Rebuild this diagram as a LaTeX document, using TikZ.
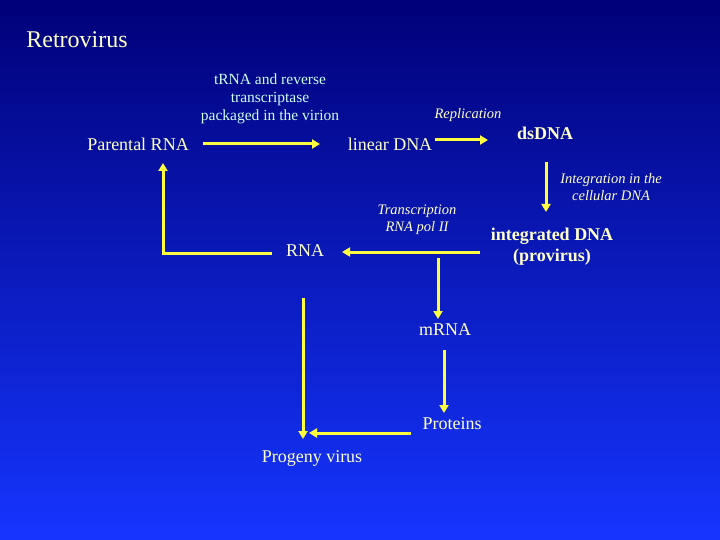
\documentclass[tikz,border=0pt]{standalone}
\usepackage{fontspec}
\setmainfont{Liberation Serif}
\usetikzlibrary{arrows.meta}
\definecolor{txt}{HTML}{FFFFCC}
\definecolor{mint}{HTML}{CCFFEE}
\definecolor{arr}{HTML}{FFFF40}
\definecolor{bgtop}{HTML}{000078}
\definecolor{bgbot}{HTML}{1535FF}
\begin{document}
\begin{tikzpicture}[x=1pt,y=-1pt,
  lab/.style={text=txt,font=\fontsize{18}{20}\selectfont,inner sep=1pt},
  small/.style={text=txt,font=\fontsize{14.5}{17}\selectfont\itshape,align=center,inner sep=0pt},
  conn/.style={draw=arr,line width=3pt,-{Triangle[length=8pt,width=9pt]}},
  plain/.style={draw=arr,line width=3pt}]
\shade[top color=bgtop,bottom color=bgbot] (0,0) rectangle (720,540);
\useasboundingbox (0,0) rectangle (720,540);
\node[text=txt,font=\fontsize{24}{26}\selectfont] (title) at (77,40) {Retrovirus};
\node[lab] (prna) at (138,144) {Parental RNA};
\node[lab] (ldna) at (390,144) {linear DNA};
\node[lab,font=\fontsize{18}{20}\selectfont\bfseries] (ds) at (545,133) {dsDNA};
\node[lab,font=\fontsize{18}{21}\selectfont\bfseries,align=center] (int) at (552,247) {integrated DNA\\(provirus)};
\node[lab] (rna) at (305,251) {RNA};
\node[lab] (mrna) at (445,330) {mRNA};
\node[lab] (prot) at (452,424) {Proteins};
\node[lab] (prog) at (312,458) {Progeny virus};
\node[text=mint,font=\fontsize{15.5}{18}\selectfont,align=center] (trna) at (270,99) {tRNA and reverse\\transcriptase\\packaged in the virion};
\node[small] (rep) at (468,115) {Replication};
\node[small] (intg) at (611,187) {Integration in the\\cellular DNA};
\node[small] (trans) at (417,220) {Transcription\\RNA pol II};
\coordinate (a1) at (203,144); \coordinate (a2) at (320,144);
\draw[conn] (a1) -- (a2);
\coordinate (b1) at (435,140); \coordinate (b2) at (488,140);
\draw[conn] (b1) -- (b2);
\coordinate (c1) at (546,162); \coordinate (c2) at (546,212);
\draw[conn] (c1) -- (c2);
\coordinate (d1) at (480,252); \coordinate (d2) at (342,252);
\draw[conn] (d1) -- (d2);
\coordinate (e1) at (272,253); \coordinate (e2) at (163,253); \coordinate (e3) at (163,163);
\draw[conn] (e1) -- (e2) -- (e3);
\coordinate (f1) at (438,258); \coordinate (f2) at (438,319);
\draw[conn] (f1) -- (f2);
\coordinate (g1) at (444,350); \coordinate (g2) at (444,413);
\draw[conn] (g1) -- (g2);
\coordinate (h1) at (303,298); \coordinate (h2) at (303,439);
\draw[conn] (h1) -- (h2);
\coordinate (i1) at (411,433); \coordinate (i2) at (309,433);
\draw[conn] (i1) -- (i2);
\end{tikzpicture}
\end{document}
